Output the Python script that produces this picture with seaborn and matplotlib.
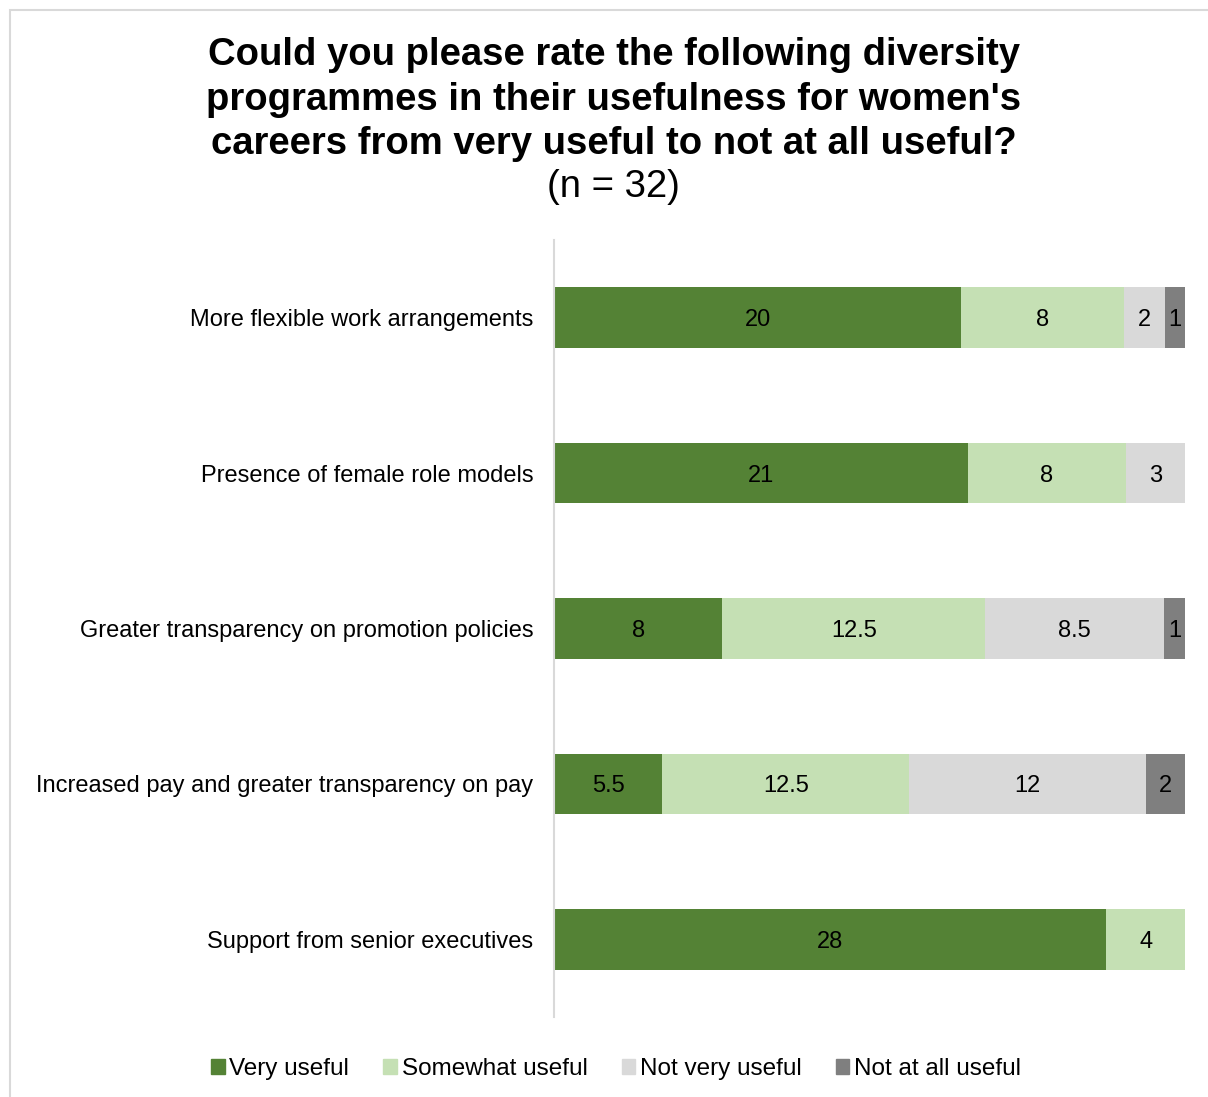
import matplotlib
matplotlib.use("Agg")
import matplotlib.pyplot as plt
import matplotlib.patches as mpatches
import numpy as np
import pandas as pd
import seaborn as sns

programmes = [
    "More flexible work arrangements",
    "Presence of female role models",
    "Greater transparency on promotion policies",
    "Increased pay and greater transparency on pay",
    "Support from senior executives",
]
ratings = ["Very useful", "Somewhat useful", "Not very useful", "Not at all useful"]
very_useful = [20, 21, 8, 5.5, 28]
somewhat_useful = [8, 8, 12.5, 12.5, 4]
not_very_useful = [2, 3, 8.5, 12, 0]
not_at_all_useful = [1, 0, 1, 2, 0]
colors = ["#548235", "#C5E0B4", "#D9D9D9", "#7F7F7F"]

sns.set_theme(style="white")
plt.rcParams["font.family"] = ["Liberation Sans", "DejaVu Sans"]
plt.rcParams["text.color"] = "black"
plt.rcParams["ytick.color"] = "black"
plt.rcParams["xtick.color"] = "black"
plt.rcParams["axes.labelcolor"] = "black"

counts = np.array([very_useful, somewhat_useful, not_very_useful, not_at_all_useful]).T
shares = counts / counts.sum(axis=1, keepdims=True) * 100
cum = np.cumsum(shares, axis=1)

fig = plt.figure(figsize=(12.08, 10.97), dpi=100)
ax = fig.add_axes([554 / 1208, 1 - 1017 / 1097, 631 / 1208, 777 / 1097])

# Stacked 100% bars: draw the cumulative totals from the outermost segment inwards
for j in range(len(ratings) - 1, -1, -1):
    df = pd.DataFrame({"programme": programmes, "value": cum[:, j]})
    sns.barplot(data=df, x="value", y="programme", order=programmes,
                color=colors[j], saturation=1, width=0.39, ax=ax,
                edgecolor="none", linewidth=0)

for i in range(len(programmes)):
    for j in range(len(ratings)):
        if counts[i, j] > 0:
            mid = cum[i, j] - shares[i, j] / 2
            label = f"{counts[i, j]:g}"
            ax.text(mid, i, label, ha="center", va="center_baseline",
                    fontsize=17, color="black")

ax.set_xlim(0, 100)
ax.set_ylim(4.5, -0.5)
ax.set_xlabel("")
ax.set_ylabel("")
ax.set_xticks([])
ax.tick_params(axis="y", length=0, pad=15, labelsize=17, labelcolor="black")
for side in ["top", "right", "bottom"]:
    ax.spines[side].set_visible(False)
ax.spines["left"].set_color("#D9D9D9")
ax.spines["left"].set_linewidth(1.5)

fig.text(0.508, 1 - 99.5 / 1097,
         "Could you please rate the following diversity\n"
         "programmes in their usefulness for women's\n"
         "careers from very useful to not at all useful?",
         ha="center", va="center", fontsize=27.5, fontweight="bold",
         linespacing=1.29, transform=fig.transFigure)
fig.text(0.508, 1 - 187 / 1097, "(n = 32)", ha="center", va="center",
         fontsize=27.5, transform=fig.transFigure)

# Legend along the bottom
handles = [mpatches.Patch(color=c, label=r) for c, r in zip(colors, ratings)]
fig.legend(handles=handles, loc="center", bbox_to_anchor=(616 / 1208, 1 - 1069 / 1097),
           ncol=4, frameon=False, fontsize=17.5, handlelength=0.55, handleheight=0.55,
           handletextpad=0.2, columnspacing=1.4)

# Outer frame of the chart area
frame = mpatches.Rectangle((10 / 1208, -0.1), 1.2, 1087 / 1097 + 0.1,
                           transform=fig.transFigure, fill=False,
                           edgecolor="#D9D9D9", linewidth=1.5, clip_on=False)
fig.patches.append(frame)

fig.savefig("out.png", dpi=100)
